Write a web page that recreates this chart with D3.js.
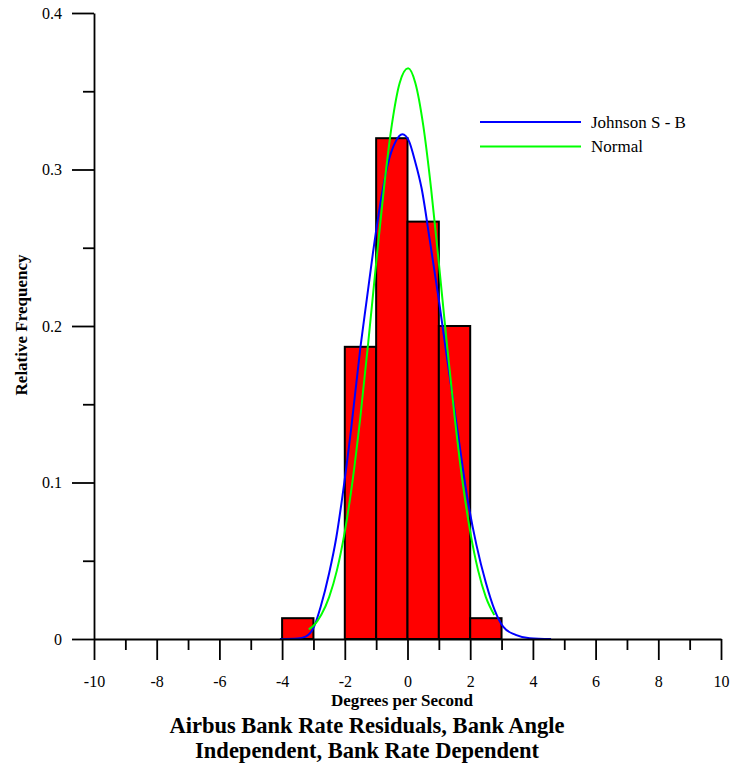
<!doctype html>
<html lang="en">
<head>
  <meta charset="utf-8">
  <title>Airbus Bank Rate Residuals</title>
  <style>
    body { margin: 0; background: #fff; }
    text { font-family: "Liberation Serif", "Times New Roman", serif; fill: #000; }
    .bar { fill: #ff0000; stroke: #000; stroke-width: 2; }
    .axis path, .axis line { stroke: #000; stroke-width: 1.8; }
  </style>
</head>
<body>
<div id="chart"></div>
<script src="https://d3js.org/d3.v7.min.js"></script>
<script>
// histogram bins (lower edge, upper edge) and relative frequencies
const binStart = [-4, -2, -1, 0, 1, 2];
const binEnd = [-3, -1, 0, 1, 2, 3];
const relFreq = [0.0133, 0.1867, 0.32, 0.2667, 0.2, 0.0133];

// fitted Johnson S-B curve
const johnsonX = [-4.07, -3.5, -3.25, -2.98, -2.77, -2.5, -2.27, -2.07, -1.8, -1.5, -1.3, -1.1, -0.86, -0.62, -0.4, -0.16, 0.05, 0.23, 0.45, 0.71, 1.0, 1.25, 1.57, 1.92, 2.2, 2.5, 2.78, 3.05, 3.45, 3.9, 4.58];
const johnsonY = [0, 0.0003, 0.0015, 0.0079, 0.0206, 0.042, 0.065, 0.092, 0.134, 0.1866, 0.2168, 0.247, 0.279, 0.304, 0.317, 0.3225, 0.318, 0.3061, 0.288, 0.255, 0.2166, 0.181, 0.1367, 0.0888, 0.06, 0.036, 0.0185, 0.0079, 0.0026, 0.0005, 0];

// fitted normal curve
const normalX = [-3.15, -3.0, -2.75, -2.5, -2.25, -2.0, -1.75, -1.5, -1.25, -1.0, -0.75, -0.5, -0.25, 0.02, 0.25, 0.5, 0.75, 1.0, 1.25, 1.5, 1.75, 2.0, 2.25, 2.5, 2.77];
const normalY = [0.0062, 0.0085, 0.0155, 0.0268, 0.044, 0.0686, 0.1014, 0.1425, 0.1898, 0.2402, 0.2883, 0.3285, 0.3553, 0.3647, 0.3553, 0.3285, 0.2883, 0.2402, 0.1898, 0.1425, 0.1014, 0.0686, 0.044, 0.0268, 0.0153];

const xMajor = [-10, -8, -6, -4, -2, 0, 2, 4, 6, 8, 10];
const xMinor = [-9, -7, -5, -3, -1, 1, 3, 5, 7, 9];
const yMajor = [0, 0.1, 0.2, 0.3, 0.4];
const yMinor = [0.05, 0.15, 0.25, 0.35];

const legendNames = ['Johnson S - B', 'Normal'];
const legendColors = ['#0000ff', '#00ff00'];

const width = 731, height = 765;

const svg = d3.select('#chart').append('svg')
  .attr('width', width)
  .attr('height', height);

const x = d3.scaleLinear().domain([-10, 10]).range([94, 721]);
const y = d3.scaleLinear().domain([0, 0.4]).range([639, 13]);

// bars
svg.append('g')
  .selectAll('rect')
  .data(relFreq)
  .join('rect')
  .attr('class', 'bar')
  .attr('x', (d, i) => x(binStart[i]))
  .attr('width', (d, i) => x(binEnd[i]) - x(binStart[i]))
  .attr('y', d => y(d))
  .attr('height', d => y(0) - y(d));

// curves
const line = d3.line()
  .x(d => x(d[0]))
  .y(d => y(d[1]))
  .curve(d3.curveMonotoneX);

svg.append('path')
  .datum(johnsonX.map((v, i) => [v, johnsonY[i]]))
  .attr('d', line)
  .attr('fill', 'none')
  .attr('stroke', legendColors[0])
  .attr('stroke-width', 2);

svg.append('path')
  .datum(normalX.map((v, i) => [v, normalY[i]]))
  .attr('d', line)
  .attr('fill', 'none')
  .attr('stroke', legendColors[1])
  .attr('stroke-width', 2);

// x axis: major ticks with labels, then minor ticks
const xAxis = svg.append('g')
  .attr('class', 'axis')
  .attr('transform', `translate(0,${y(0)})`)
  .call(d3.axisBottom(x).tickValues(xMajor).tickSize(21).tickSizeOuter(0).tickPadding(16)
    .tickFormat(d => String(d)));
xAxis.selectAll('text').style('font-size', '16px');

svg.append('g')
  .attr('class', 'axis')
  .attr('transform', `translate(0,${y(0)})`)
  .call(d3.axisBottom(x).tickValues(xMinor).tickSize(11).tickSizeOuter(0).tickFormat(''))
  .select('.domain').remove();

// y axis
const yAxis = svg.append('g')
  .attr('class', 'axis')
  .attr('transform', `translate(${x(-10)},0)`)
  .call(d3.axisLeft(y).tickValues(yMajor).tickSize(22).tickSizeOuter(0).tickPadding(10)
    .tickFormat(d => d === 0 ? '0' : d3.format('.1f')(d)));
yAxis.selectAll('text').style('font-size', '16px');

svg.append('g')
  .attr('class', 'axis')
  .attr('transform', `translate(${x(-10)},0)`)
  .call(d3.axisLeft(y).tickValues(yMinor).tickSize(11).tickSizeOuter(0).tickFormat(''))
  .select('.domain').remove();

// axis titles
svg.append('text')
  .attr('x', 402)
  .attr('y', 706)
  .attr('text-anchor', 'middle')
  .style('font-size', '17px')
  .style('font-weight', 'bold')
  .text('Degrees per Second');

svg.append('text')
  .attr('transform', 'translate(27,325) rotate(-90)')
  .attr('text-anchor', 'middle')
  .style('font-size', '17px')
  .style('font-weight', 'bold')
  .text('Relative Frequency');

// chart title, two separate lines
const titleLines = ['Airbus Bank Rate Residuals, Bank Angle', 'Independent, Bank Rate Dependent'];
svg.append('g')
  .selectAll('text')
  .data(titleLines)
  .join('text')
  .attr('x', 367)
  .attr('y', (d, i) => 733 + i * 25)
  .attr('text-anchor', 'middle')
  .style('font-size', '22.5px')
  .style('font-weight', 'bold')
  .text(d => d);

// legend
const legend = svg.append('g')
  .selectAll('g')
  .data(legendNames)
  .join('g')
  .attr('transform', (d, i) => `translate(480,${122 + i * 24.5})`);

legend.append('line')
  .attr('x1', 0).attr('x2', 101)
  .attr('stroke', (d, i) => legendColors[i])
  .attr('stroke-width', 2);

legend.append('text')
  .attr('x', 111)
  .attr('dy', '0.35em')
  .style('font-size', '17px')
  .text(d => d);
</script>
</body>
</html>
